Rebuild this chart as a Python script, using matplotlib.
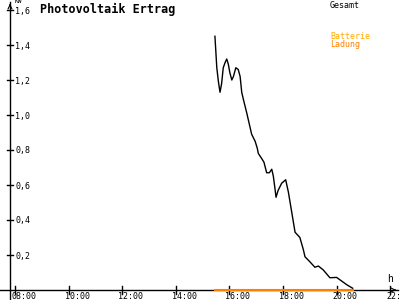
import matplotlib
matplotlib.use("Agg")
import matplotlib.pyplot as plt

# total output (kW) over time of day (hours)
hours = [15.46, 15.53, 15.59, 15.65, 15.71, 15.77, 15.84, 15.90, 15.96, 16.02,
         16.09, 16.15, 16.24, 16.33, 16.40, 16.46, 16.52, 16.65, 16.77, 16.83,
         16.96, 17.04, 17.08, 17.21, 17.29, 17.39, 17.49, 17.58, 17.64, 17.70,
         17.74, 17.82, 17.95, 18.10, 18.20, 18.32, 18.45, 18.63, 18.76, 18.82,
         19.01, 19.19, 19.32, 19.50, 19.75, 20.00, 20.38, 20.60]
gesamt_kw = [1.45, 1.27, 1.19, 1.13, 1.18, 1.27, 1.30, 1.32, 1.29, 1.24,
             1.20, 1.22, 1.27, 1.26, 1.22, 1.13, 1.09, 1.01, 0.93, 0.89,
             0.85, 0.81, 0.78, 0.75, 0.73, 0.67, 0.67, 0.69, 0.65, 0.58,
             0.53, 0.57, 0.61, 0.63, 0.56, 0.45, 0.33, 0.30, 0.23, 0.19,
             0.16, 0.13, 0.137, 0.115, 0.07, 0.072, 0.03, 0.01]

# battery charge
batt_hours = [15.46, 20.60]
batt_kw = [0.0, 0.0]

x_ticks = [8, 10, 12, 14, 16, 18, 20, 22]
x_labels = ['08:00', '10:00', '12:00', '14:00', '16:00', '18:00', '20:00', '22:00']
y_ticks = [0.2, 0.4, 0.6, 0.8, 1.0, 1.2, 1.4, 1.6]
y_labels = ['0,2', '0,4', '0,6', '0,8', '1,0', '1,2', '1,4', '1,6']

ORANGE = '#ff8000'
YELLOW = '#ffaa00'
MONO = 'DejaVu Sans Mono'

fig = plt.figure(figsize=(4, 3), dpi=100)
ax = fig.add_axes([0, 0, 1, 1])
# 1 px horizontal ~ 1/26.8 h, 1 px vertical ~ 1/175 kW
x0, x1 = 8 - 15 / 26.8, 8 + 385 / 26.8
y0, y1 = -10 / 175, 290 / 175
ax.set_xlim(x0, x1)
ax.set_ylim(y0, y1)
ax.axis('off')

px = 1 / 26.8
py = 1 / 175
yaxis_x = 8 - 5 * px

# axes with arrows
ax.plot([x0, x1 - 2 * px], [0, 0], color='black', lw=1)
ax.plot([yaxis_x, yaxis_x], [y0, y1 - 2 * py], color='black', lw=1)
ax.annotate('', xy=(x1 - 1 * px, 0), xytext=(x1 - 8 * px, 0),
            arrowprops=dict(arrowstyle='->', lw=0.8, color='black', mutation_scale=7))
ax.annotate('', xy=(yaxis_x, y1 - 1 * py), xytext=(yaxis_x, y1 - 8 * py),
            arrowprops=dict(arrowstyle='->', lw=0.8, color='black', mutation_scale=7))

for t, lab in zip(x_ticks, x_labels):
    ax.plot([t, t], [-4 * py, 4 * py], color='black', lw=1)
    ax.text(t - 4 * px, -2 * py, lab, fontsize=6, family=MONO,
            ha='left', va='top', clip_on=True)

for v, lab in zip(y_ticks, y_labels):
    ax.plot([yaxis_x - 3 * px, yaxis_x + 3 * px], [v, v], color='black', lw=1)
    ax.text(yaxis_x + 5 * px, v - 1 * py, lab, fontsize=6, family=MONO,
            ha='left', va='center')

ax.text(yaxis_x + 5 * px, y1 + 1 * py, 'KW', fontsize=4.5, family=MONO, va='top')
ax.text(x1 - 13 * px, 6 * py, 'h', fontsize=7, family=MONO, va='bottom')

ax.plot(batt_hours, batt_kw, color=ORANGE, lw=1.5)
ax.plot(hours, gesamt_kw, color='black', lw=1)

fig.text(40 / 400, 1 - 3 / 300, 'Photovoltaik Ertrag', fontsize=8.5, family=MONO,
         weight='bold', va='top')
fig.text(330 / 400, 1 - 1 / 300, 'Gesamt', fontsize=6, family=MONO, va='top')
fig.text(330 / 400, 1 - 32 / 300, 'Batterie', fontsize=6, family=MONO, va='top', color=YELLOW)
fig.text(330 / 400, 1 - 40 / 300, 'Ladung', fontsize=6, family=MONO, va='top', color=ORANGE)

fig.savefig('out.png', dpi=100, facecolor='white')
